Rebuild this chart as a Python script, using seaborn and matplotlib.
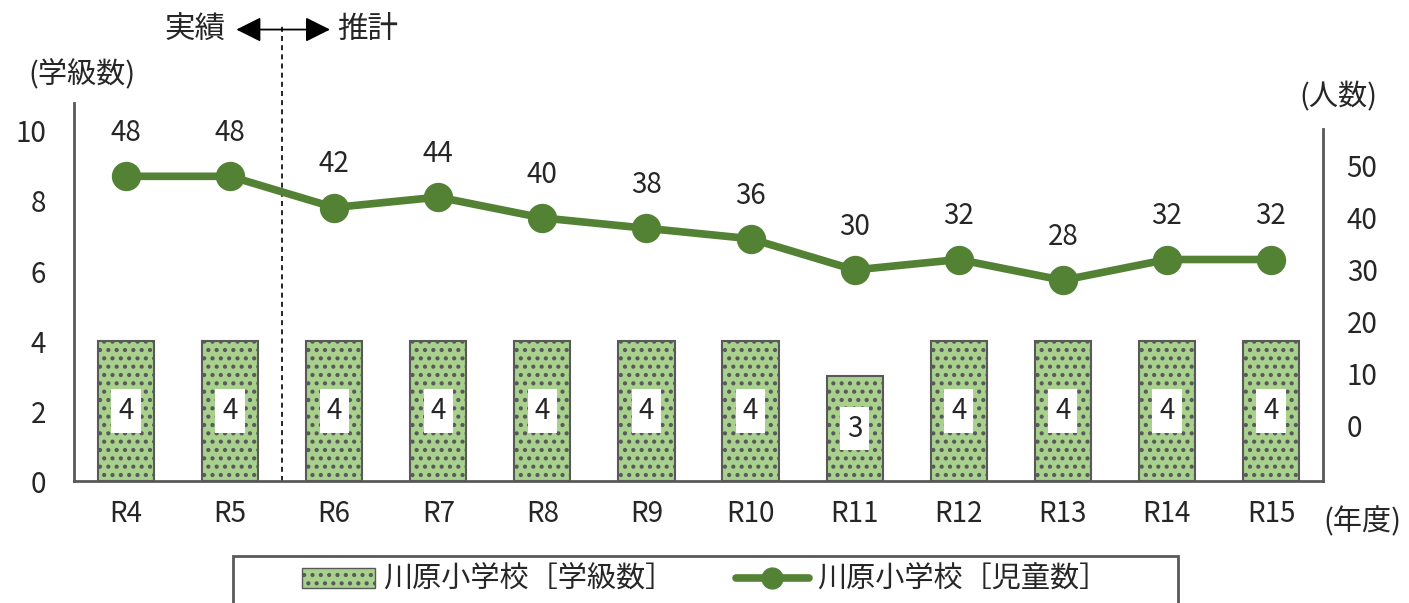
import numpy as np
import pandas as pd
import matplotlib
matplotlib.use('Agg')
import matplotlib.pyplot as plt
import matplotlib.transforms as mtransforms
from matplotlib.patches import Rectangle, Patch
from matplotlib.lines import Line2D
import seaborn as sns

years = ['R4', 'R5', 'R6', 'R7', 'R8', 'R9', 'R10', 'R11', 'R12', 'R13', 'R14', 'R15']
classes = [4, 4, 4, 4, 4, 4, 4, 3, 4, 4, 4, 4]
students = [48, 48, 42, 44, 40, 38, 36, 30, 32, 28, 32, 32]
bar_name = '川原小学校［学級数］'
line_name = '川原小学校［児童数］'

sns.set_style('white')
plt.rcParams['font.family'] = ['Noto Sans CJK JP', 'DejaVu Sans']
plt.rcParams['hatch.color'] = '#3a3a3a'
plt.rcParams['hatch.linewidth'] = 1.8

bar_color = '#a9d18e'
line_color = '#548235'
axis_color = '#595959'
text_color = '#262626'

df = pd.DataFrame({'year': years, 'classes': classes, 'students': students})

fig = plt.figure(figsize=(14.09, 6.03), dpi=100)
ax = fig.add_axes([0.0525, 0.2023, 0.8865, 0.6269])

sns.barplot(data=df, x='year', y='classes', ax=ax, color=bar_color, width=0.54,
            edgecolor=axis_color, linewidth=1.5, hatch='..', saturation=1)

ax2 = ax.twinx()
sns.pointplot(data=df, x='year', y='students', ax=ax2, color=line_color,
              markers='o', markersize=17, linewidth=5.5, errorbar=None)

ax.set_xlim(-0.5, len(years) - 0.5)
ax.set_ylim(0, 10.8)
ax2.set_ylim(-10.6, 62.1)

ax.set_yticks(range(0, 11, 2))
ax2.set_yticks(range(0, 51, 10))
ax.set_xlabel('')
ax.set_ylabel('')
ax2.set_ylabel('')

for a in (ax, ax2):
    for s in a.spines.values():
        s.set_visible(False)
ax.spines['left'].set_visible(True)
ax.spines['bottom'].set_visible(True)
ax2.spines['right'].set_visible(True)
ax2.spines['right'].set_bounds(-10.6, 57.1)
for s in (ax.spines['left'], ax.spines['bottom'], ax2.spines['right']):
    s.set_color(axis_color)
    s.set_linewidth(2)

ax.tick_params(axis='y', length=0, pad=20, labelsize=20, labelcolor=text_color)
ax2.tick_params(axis='y', length=0, pad=17, labelsize=20, labelcolor=text_color)
ax.tick_params(axis='x', which='major', length=0, pad=13, labelsize=20, labelcolor=text_color)
ax.set_xticks(np.arange(-0.5, len(years), 1), minor=True)
ax.tick_params(axis='x', which='minor', length=7, width=2, color=axis_color, direction='out')

# value labels in white boxes on bars
for i, v in enumerate(classes):
    ax.text(i, v / 2, str(v), ha='center', va='center', fontsize=20, color=text_color,
            bbox=dict(boxstyle='square,pad=0.25', fc='white', ec='none'), zorder=5)

# data labels above line points
for i, v in enumerate(students):
    ax2.annotate(str(v), (i, v), xytext=(0, 31), textcoords='offset points',
                 ha='center', va='center', fontsize=20, color=text_color)

# dashed divider between actual and estimate
trans = mtransforms.blended_transform_factory(ax.transData, fig.transFigure)
ax.add_line(Line2D([1.5, 1.5], [0.2023, 0.962], transform=trans, ls=(0, (3, 2.5)),
                   color='black', lw=1.2, clip_on=False))
ax.annotate('', xy=(1.06, 0.951), xytext=(1.96, 0.951),
            xycoords=('data', 'figure fraction'), textcoords=('data', 'figure fraction'),
            arrowprops=dict(arrowstyle='<|-|>', color='black', lw=1.3, mutation_scale=38,
                            shrinkA=0, shrinkB=0))
fig.text(195 / 1409, 0.951, '実績', ha='center', va='center', fontsize=22, color=text_color)
fig.text(368 / 1409, 0.951, '推計', ha='center', va='center', fontsize=22, color=text_color)

fig.text(82 / 1409, 1 - 75 / 603, '(学級数)', ha='center', va='center', fontsize=21, color=text_color)
fig.text(1338 / 1409, 1 - 97 / 603, '(人数)', ha='center', va='center', fontsize=21, color=text_color)
fig.text(1362 / 1409, 1 - 522 / 603, '(年度)', ha='center', va='center', fontsize=21, color=text_color)

# legend with frame cut off at the bottom
fig.add_artist(Rectangle((233 / 1409, -0.05), 945 / 1409, 0.05 + 47 / 603,
                         transform=fig.transFigure, fill=False, ec=axis_color, lw=2))
handles = [Patch(fc=bar_color, ec=axis_color, hatch='..', lw=1),
           Line2D([0], [0], color=line_color, lw=5.5, marker='o', markersize=15)]
fig.legend(handles, [bar_name, line_name], loc='center', bbox_to_anchor=(0.5005, 1 - 580 / 603),
           ncol=2, frameon=False, fontsize=21, handlelength=2.5, columnspacing=2.1,
           handletextpad=0.3, labelcolor=text_color)

fig.savefig('out.png', dpi=100)
